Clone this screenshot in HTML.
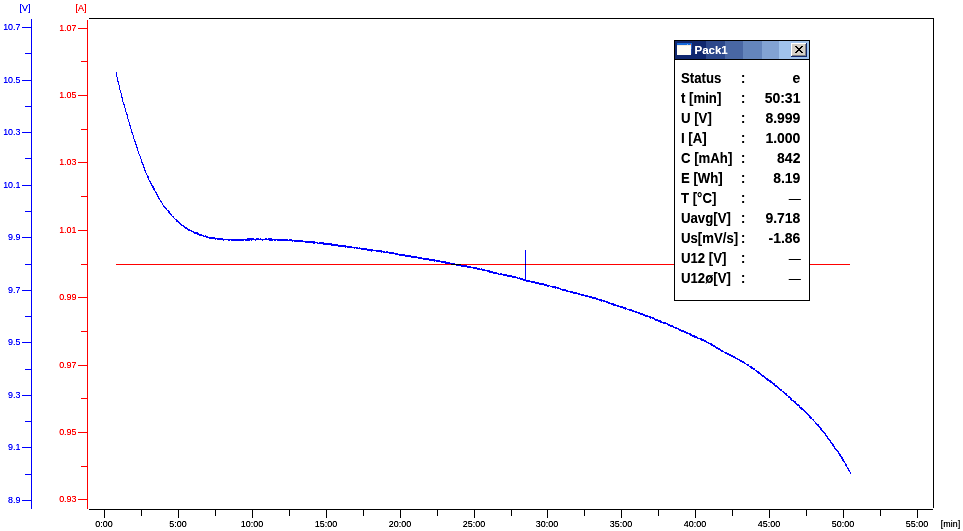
<!DOCTYPE html>
<html><head><meta charset="utf-8"><title>Pack1</title>
<style>html,body{margin:0;padding:0;background:#fff;overflow:hidden}svg{display:block}text{font-family:"Liberation Sans",sans-serif}</style>
</head><body>
<svg width="963" height="531" viewBox="0 0 963 531">
<defs><filter id="px" x="0" y="0" width="1" height="1" filterUnits="objectBoundingBox"><feComponentTransfer><feFuncA type="linear" slope="1.35" intercept="0"/></feComponentTransfer></filter><filter id="pb" x="0" y="0" width="1" height="1" filterUnits="objectBoundingBox"><feComponentTransfer><feFuncA type="linear" slope="1.15" intercept="0"/></feComponentTransfer></filter></defs>
<rect width="963" height="531" fill="#fff"/>
<rect x="89" y="18" width="845" height="1" fill="#000"/>
<rect x="933" y="18" width="1" height="490" fill="#000"/>
<rect x="89" y="509" width="844" height="1" fill="#000"/>
<rect x="31" y="19" width="1" height="490" fill="#0000ff"/>
<rect x="22" y="27" width="10" height="1" fill="#0000ff"/>
<rect x="25" y="53" width="7" height="1" fill="#0000ff"/>
<rect x="22" y="80" width="10" height="1" fill="#0000ff"/>
<rect x="25" y="106" width="7" height="1" fill="#0000ff"/>
<rect x="22" y="132" width="10" height="1" fill="#0000ff"/>
<rect x="25" y="158" width="7" height="1" fill="#0000ff"/>
<rect x="22" y="185" width="10" height="1" fill="#0000ff"/>
<rect x="25" y="211" width="7" height="1" fill="#0000ff"/>
<rect x="22" y="237" width="10" height="1" fill="#0000ff"/>
<rect x="25" y="264" width="7" height="1" fill="#0000ff"/>
<rect x="22" y="290" width="10" height="1" fill="#0000ff"/>
<rect x="25" y="316" width="7" height="1" fill="#0000ff"/>
<rect x="22" y="342" width="10" height="1" fill="#0000ff"/>
<rect x="25" y="369" width="7" height="1" fill="#0000ff"/>
<rect x="22" y="395" width="10" height="1" fill="#0000ff"/>
<rect x="25" y="421" width="7" height="1" fill="#0000ff"/>
<rect x="22" y="447" width="10" height="1" fill="#0000ff"/>
<rect x="25" y="474" width="7" height="1" fill="#0000ff"/>
<rect x="22" y="500" width="10" height="1" fill="#0000ff"/>
<rect x="87" y="20" width="1" height="489" fill="#ff0000"/>
<rect x="78" y="28" width="10" height="1" fill="#ff0000"/>
<rect x="81" y="61" width="7" height="1" fill="#ff0000"/>
<rect x="78" y="95" width="10" height="1" fill="#ff0000"/>
<rect x="81" y="129" width="7" height="1" fill="#ff0000"/>
<rect x="78" y="162" width="10" height="1" fill="#ff0000"/>
<rect x="81" y="196" width="7" height="1" fill="#ff0000"/>
<rect x="78" y="230" width="10" height="1" fill="#ff0000"/>
<rect x="81" y="264" width="7" height="1" fill="#ff0000"/>
<rect x="78" y="297" width="10" height="1" fill="#ff0000"/>
<rect x="81" y="331" width="7" height="1" fill="#ff0000"/>
<rect x="78" y="365" width="10" height="1" fill="#ff0000"/>
<rect x="81" y="398" width="7" height="1" fill="#ff0000"/>
<rect x="78" y="432" width="10" height="1" fill="#ff0000"/>
<rect x="81" y="466" width="7" height="1" fill="#ff0000"/>
<rect x="78" y="499" width="10" height="1" fill="#ff0000"/>
<rect x="104" y="509" width="1" height="9" fill="#000"/>
<rect x="141" y="509" width="1" height="7" fill="#000"/>
<rect x="178" y="509" width="1" height="9" fill="#000"/>
<rect x="215" y="509" width="1" height="7" fill="#000"/>
<rect x="252" y="509" width="1" height="9" fill="#000"/>
<rect x="289" y="509" width="1" height="7" fill="#000"/>
<rect x="326" y="509" width="1" height="9" fill="#000"/>
<rect x="363" y="509" width="1" height="7" fill="#000"/>
<rect x="400" y="509" width="1" height="9" fill="#000"/>
<rect x="437" y="509" width="1" height="7" fill="#000"/>
<rect x="474" y="509" width="1" height="9" fill="#000"/>
<rect x="511" y="509" width="1" height="7" fill="#000"/>
<rect x="547" y="509" width="1" height="9" fill="#000"/>
<rect x="584" y="509" width="1" height="7" fill="#000"/>
<rect x="621" y="509" width="1" height="9" fill="#000"/>
<rect x="658" y="509" width="1" height="7" fill="#000"/>
<rect x="695" y="509" width="1" height="9" fill="#000"/>
<rect x="732" y="509" width="1" height="7" fill="#000"/>
<rect x="769" y="509" width="1" height="9" fill="#000"/>
<rect x="806" y="509" width="1" height="7" fill="#000"/>
<rect x="843" y="509" width="1" height="9" fill="#000"/>
<rect x="880" y="509" width="1" height="7" fill="#000"/>
<rect x="917" y="509" width="1" height="9" fill="#000"/>
<g font-size="9.5px" fill="#0000ff" text-anchor="end" filter="url(#px)">
<text transform="translate(20.5 30.2) scale(0.94 1)">10.7</text>
<text transform="translate(20.5 83.2) scale(0.94 1)">10.5</text>
<text transform="translate(20.5 135.2) scale(0.94 1)">10.3</text>
<text transform="translate(20.5 188.2) scale(0.94 1)">10.1</text>
<text transform="translate(20.5 240.2) scale(0.94 1)">9.9</text>
<text transform="translate(20.5 293.2) scale(0.94 1)">9.7</text>
<text transform="translate(20.5 345.2) scale(0.94 1)">9.5</text>
<text transform="translate(20.5 398.2) scale(0.94 1)">9.3</text>
<text transform="translate(20.5 450.2) scale(0.94 1)">9.1</text>
<text transform="translate(20.5 503.2) scale(0.94 1)">8.9</text>
</g>
<text transform="translate(25 11.2) scale(0.94 1)" font-size="9.5px" fill="#0000ff" text-anchor="middle" filter="url(#px)">[V]</text>
<g font-size="9.5px" fill="#ff0000" text-anchor="end" filter="url(#px)">
<text transform="translate(76.5 31) scale(0.94 1)">1.07</text>
<text transform="translate(76.5 98) scale(0.94 1)">1.05</text>
<text transform="translate(76.5 165) scale(0.94 1)">1.03</text>
<text transform="translate(76.5 233) scale(0.94 1)">1.01</text>
<text transform="translate(76.5 300) scale(0.94 1)">0.99</text>
<text transform="translate(76.5 368) scale(0.94 1)">0.97</text>
<text transform="translate(76.5 435) scale(0.94 1)">0.95</text>
<text transform="translate(76.5 502) scale(0.94 1)">0.93</text>
</g>
<text transform="translate(81 11.2) scale(0.94 1)" font-size="9.5px" fill="#ff0000" text-anchor="middle" filter="url(#px)">[A]</text>
<g font-size="9.5px" fill="#000" text-anchor="middle" filter="url(#px)">
<text transform="translate(104 527) scale(0.94 1)">0:00</text>
<text transform="translate(178 527) scale(0.94 1)">5:00</text>
<text transform="translate(252 527) scale(0.94 1)">10:00</text>
<text transform="translate(326 527) scale(0.94 1)">15:00</text>
<text transform="translate(400 527) scale(0.94 1)">20:00</text>
<text transform="translate(474 527) scale(0.94 1)">25:00</text>
<text transform="translate(547 527) scale(0.94 1)">30:00</text>
<text transform="translate(621 527) scale(0.94 1)">35:00</text>
<text transform="translate(695 527) scale(0.94 1)">40:00</text>
<text transform="translate(769 527) scale(0.94 1)">45:00</text>
<text transform="translate(843 527) scale(0.94 1)">50:00</text>
<text transform="translate(917 527) scale(0.94 1)">55:00</text>
<text transform="translate(950.5 527) scale(0.94 1)">[min]</text>
</g>
<rect x="116" y="264" width="734" height="1" fill="#ff0000"/>
<path d="M116 72h1v5h-1zM117 77h1v5h-1zM118 81h1v4h-1zM119 85h1v5h-1zM120 90h1v3h-1zM121 93h1v5h-1zM122 97h1v5h-1zM123 102h1v3h-1zM124 104h1v4h-1zM125 108h1v4h-1zM126 112h1v3h-1zM127 114h1v5h-1zM128 119h1v3h-1zM129 122h1v4h-1zM130 125h1v4h-1zM131 129h1v4h-1zM132 132h1v3h-1zM133 135h1v4h-1zM134 139h1v3h-1zM135 141h1v4h-1zM136 144h1v4h-1zM137 147h1v4h-1zM138 151h1v3h-1zM139 154h1v2h-1zM140 156h1v3h-1zM141 159h1v4h-1zM142 162h1v3h-1zM143 164h1v4h-1zM144 167h1v4h-1zM145 170h1v3h-1zM146 173h1v2h-1zM147 175h1v3h-1zM148 176h1v4h-1zM149 180h1v2h-1zM150 181h1v3h-1zM151 183h1v3h-1zM152 185h1v3h-1zM153 186h1v4h-1zM154 188h1v3h-1zM155 191h1v2h-1zM156 192h1v3h-1zM157 194h1v3h-1zM158 196h1v3h-1zM159 198h1v2h-1zM160 200h1v2h-1zM161 201h1v2h-1zM162 203h1v2h-1zM163 205h1v2h-1zM164 206h1v2h-1zM165 207h1v2h-1zM166 208h1v2h-1zM167 210h1v1h-1zM168 210h1v3h-1zM169 211h1v3h-1zM170 213h1v2h-1zM171 214h1v2h-1zM172 216h1v1h-1zM173 216h1v2h-1zM174 218h1v1h-1zM175 219h1v1h-1zM176 219h1v3h-1zM177 220h1v2h-1zM178 221h1v2h-1zM179 222h1v2h-1zM180 223h1v2h-1zM181 224h1v2h-1zM182 225h1v1h-1zM183 225h1v2h-1zM184 226h1v2h-1zM185 227h1v2h-1zM186 227h1v2h-1zM187 228h1v2h-1zM188 229h1v2h-1zM189 229h1v2h-1zM190 230h1v1h-1zM191 230h1v2h-1zM192 231h1v1h-1zM193 231h1v2h-1zM194 232h1v2h-1zM195 232h1v2h-1zM196 232h1v2h-1zM197 232h1v3h-1zM198 233h1v2h-1zM199 234h1v2h-1zM200 234h1v2h-1zM201 234h1v2h-1zM202 235h1v1h-1zM203 235h1v2h-1zM204 236h1v1h-1zM205 235h1v2h-1zM206 236h1v2h-1zM207 236h1v2h-1zM208 237h1v1h-1zM209 237h1v2h-1zM210 237h1v2h-1zM211 237h1v2h-1zM212 237h1v2h-1zM213 237h1v2h-1zM214 237h1v2h-1zM215 238h1v2h-1zM216 238h1v1h-1zM217 238h1v2h-1zM218 238h1v2h-1zM219 238h1v2h-1zM220 238h1v2h-1zM221 238h1v2h-1zM222 238h1v2h-1zM223 239h1v2h-1zM224 239h1v1h-1zM225 239h1v1h-1zM226 239h1v1h-1zM227 239h1v1h-1zM228 239h1v2h-1zM229 239h1v2h-1zM230 239h1v1h-1zM231 239h1v2h-1zM232 239h1v2h-1zM233 239h1v2h-1zM234 239h1v2h-1zM235 239h1v2h-1zM236 239h1v2h-1zM237 239h1v2h-1zM238 239h1v2h-1zM239 239h1v2h-1zM240 239h1v2h-1zM241 239h1v2h-1zM242 239h1v2h-1zM243 239h1v2h-1zM244 239h1v1h-1zM245 239h1v2h-1zM246 239h1v2h-1zM247 238h1v3h-1zM248 238h1v3h-1zM249 238h1v3h-1zM250 238h1v2h-1zM251 238h1v3h-1zM252 238h1v2h-1zM253 238h1v2h-1zM254 239h1v1h-1zM255 239h1v2h-1zM256 238h1v2h-1zM257 238h1v2h-1zM258 238h1v2h-1zM259 239h1v1h-1zM260 238h1v2h-1zM261 239h1v1h-1zM262 239h1v2h-1zM263 239h1v1h-1zM264 239h1v1h-1zM265 238h1v2h-1zM266 238h1v2h-1zM267 239h1v1h-1zM268 238h1v2h-1zM269 238h1v3h-1zM270 238h1v3h-1zM271 238h1v3h-1zM272 239h1v2h-1zM273 239h1v1h-1zM274 239h1v2h-1zM275 239h1v2h-1zM276 239h1v1h-1zM277 239h1v2h-1zM278 239h1v2h-1zM279 239h1v2h-1zM280 239h1v2h-1zM281 239h1v2h-1zM282 239h1v2h-1zM283 239h1v2h-1zM284 239h1v2h-1zM285 239h1v2h-1zM286 239h1v2h-1zM287 239h1v2h-1zM288 240h1v1h-1zM289 239h1v2h-1zM290 239h1v2h-1zM291 239h1v2h-1zM292 240h1v2h-1zM293 240h1v1h-1zM294 240h1v2h-1zM295 240h1v2h-1zM296 240h1v2h-1zM297 240h1v2h-1zM298 240h1v2h-1zM299 240h1v2h-1zM300 240h1v2h-1zM301 240h1v2h-1zM302 240h1v2h-1zM303 241h1v1h-1zM304 241h1v1h-1zM305 241h1v2h-1zM306 241h1v2h-1zM307 241h1v2h-1zM308 241h1v2h-1zM309 241h1v2h-1zM310 241h1v2h-1zM311 241h1v2h-1zM312 241h1v2h-1zM313 241h1v3h-1zM314 241h1v3h-1zM315 242h1v1h-1zM316 242h1v1h-1zM317 242h1v2h-1zM318 243h1v1h-1zM319 242h1v2h-1zM320 242h1v2h-1zM321 242h1v2h-1zM322 242h1v2h-1zM323 242h1v3h-1zM324 243h1v2h-1zM325 243h1v2h-1zM326 243h1v2h-1zM327 243h1v2h-1zM328 243h1v2h-1zM329 243h1v2h-1zM330 243h1v2h-1zM331 243h1v3h-1zM332 244h1v2h-1zM333 244h1v2h-1zM334 244h1v2h-1zM335 244h1v2h-1zM336 244h1v2h-1zM337 244h1v2h-1zM338 245h1v2h-1zM339 245h1v2h-1zM340 245h1v2h-1zM341 245h1v2h-1zM342 245h1v2h-1zM343 245h1v2h-1zM344 245h1v2h-1zM345 245h1v3h-1zM346 246h1v1h-1zM347 246h1v2h-1zM348 246h1v2h-1zM349 246h1v2h-1zM350 246h1v2h-1zM351 246h1v2h-1zM352 247h1v1h-1zM353 247h1v1h-1zM354 247h1v2h-1zM355 247h1v1h-1zM356 247h1v2h-1zM357 247h1v2h-1zM358 248h1v1h-1zM359 247h1v2h-1zM360 248h1v1h-1zM361 248h1v2h-1zM362 248h1v2h-1zM363 248h1v2h-1zM364 248h1v2h-1zM365 248h1v2h-1zM366 248h1v2h-1zM367 249h1v2h-1zM368 249h1v2h-1zM369 249h1v2h-1zM370 249h1v2h-1zM371 249h1v3h-1zM372 249h1v2h-1zM373 250h1v1h-1zM374 250h1v1h-1zM375 250h1v1h-1zM376 250h1v2h-1zM377 250h1v2h-1zM378 250h1v2h-1zM379 250h1v2h-1zM380 250h1v2h-1zM381 250h1v3h-1zM382 251h1v1h-1zM383 251h1v2h-1zM384 251h1v2h-1zM385 252h1v1h-1zM386 251h1v2h-1zM387 251h1v2h-1zM388 252h1v1h-1zM389 252h1v2h-1zM390 252h1v2h-1zM391 252h1v2h-1zM392 252h1v2h-1zM393 252h1v2h-1zM394 253h1v1h-1zM395 253h1v2h-1zM396 253h1v2h-1zM397 253h1v2h-1zM398 254h1v1h-1zM399 254h1v2h-1zM400 254h1v2h-1zM401 254h1v2h-1zM402 254h1v2h-1zM403 254h1v2h-1zM404 254h1v2h-1zM405 255h1v2h-1zM406 255h1v2h-1zM407 255h1v2h-1zM408 255h1v2h-1zM409 255h1v2h-1zM410 255h1v2h-1zM411 256h1v2h-1zM412 256h1v2h-1zM413 256h1v2h-1zM414 256h1v2h-1zM415 256h1v2h-1zM416 256h1v2h-1zM417 257h1v1h-1zM418 257h1v2h-1zM419 257h1v2h-1zM420 257h1v2h-1zM421 257h1v2h-1zM422 258h1v1h-1zM423 258h1v2h-1zM424 258h1v2h-1zM425 258h1v2h-1zM426 258h1v2h-1zM427 258h1v2h-1zM428 258h1v2h-1zM429 259h1v2h-1zM430 259h1v2h-1zM431 259h1v2h-1zM432 259h1v2h-1zM433 259h1v2h-1zM434 259h1v3h-1zM435 260h1v1h-1zM436 260h1v2h-1zM437 260h1v2h-1zM438 260h1v2h-1zM439 260h1v2h-1zM440 261h1v1h-1zM441 261h1v2h-1zM442 261h1v2h-1zM443 261h1v2h-1zM444 261h1v2h-1zM445 261h1v3h-1zM446 262h1v2h-1zM447 262h1v2h-1zM448 262h1v2h-1zM449 262h1v2h-1zM450 263h1v1h-1zM451 263h1v2h-1zM452 263h1v2h-1zM453 263h1v2h-1zM454 263h1v2h-1zM455 264h1v1h-1zM456 264h1v2h-1zM457 264h1v2h-1zM458 264h1v2h-1zM459 264h1v2h-1zM460 264h1v2h-1zM461 265h1v2h-1zM462 265h1v2h-1zM463 265h1v2h-1zM464 265h1v2h-1zM465 265h1v2h-1zM466 265h1v2h-1zM467 266h1v2h-1zM468 266h1v2h-1zM469 266h1v2h-1zM470 266h1v2h-1zM471 267h1v1h-1zM472 267h1v1h-1zM473 267h1v2h-1zM474 267h1v2h-1zM475 267h1v2h-1zM476 267h1v2h-1zM477 268h1v2h-1zM478 268h1v2h-1zM479 268h1v2h-1zM480 269h1v1h-1zM481 268h1v2h-1zM482 269h1v2h-1zM483 269h1v2h-1zM484 269h1v2h-1zM485 270h1v1h-1zM486 270h1v1h-1zM487 270h1v2h-1zM488 270h1v2h-1zM489 270h1v3h-1zM490 271h1v2h-1zM491 271h1v2h-1zM492 271h1v2h-1zM493 272h1v2h-1zM494 272h1v2h-1zM495 272h1v2h-1zM496 272h1v2h-1zM497 273h1v1h-1zM498 273h1v2h-1zM499 274h1v1h-1zM500 273h1v2h-1zM501 273h1v2h-1zM502 274h1v1h-1zM503 274h1v2h-1zM504 274h1v2h-1zM505 274h1v2h-1zM506 274h1v2h-1zM507 275h1v2h-1zM508 275h1v2h-1zM509 275h1v2h-1zM510 275h1v2h-1zM511 275h1v2h-1zM512 276h1v2h-1zM513 276h1v2h-1zM514 276h1v2h-1zM515 276h1v2h-1zM516 277h1v1h-1zM517 277h1v2h-1zM518 278h1v1h-1zM519 277h1v2h-1zM520 278h1v2h-1zM521 278h1v2h-1zM522 278h1v2h-1zM523 279h1v2h-1zM524 279h1v2h-1zM525 279h1v2h-1zM526 280h1v2h-1zM527 280h1v2h-1zM528 280h1v2h-1zM529 280h1v2h-1zM530 281h1v1h-1zM531 281h1v2h-1zM532 281h1v2h-1zM533 281h1v2h-1zM534 281h1v2h-1zM535 282h1v2h-1zM536 282h1v2h-1zM537 282h1v2h-1zM538 282h1v2h-1zM539 283h1v2h-1zM540 283h1v2h-1zM541 283h1v2h-1zM542 283h1v2h-1zM543 283h1v2h-1zM544 284h1v2h-1zM545 284h1v2h-1zM546 284h1v2h-1zM547 285h1v2h-1zM548 285h1v2h-1zM549 285h1v1h-1zM550 286h1v1h-1zM551 286h1v1h-1zM552 286h1v2h-1zM553 286h1v2h-1zM554 286h1v2h-1zM555 286h1v3h-1zM556 287h1v1h-1zM557 287h1v2h-1zM558 287h1v2h-1zM559 288h1v1h-1zM560 288h1v2h-1zM561 289h1v1h-1zM562 289h1v2h-1zM563 289h1v2h-1zM564 289h1v2h-1zM565 289h1v2h-1zM566 290h1v2h-1zM567 290h1v2h-1zM568 291h1v1h-1zM569 291h1v1h-1zM570 291h1v2h-1zM571 291h1v2h-1zM572 291h1v2h-1zM573 292h1v2h-1zM574 292h1v2h-1zM575 292h1v2h-1zM576 292h1v2h-1zM577 293h1v1h-1zM578 293h1v2h-1zM579 293h1v2h-1zM580 294h1v1h-1zM581 294h1v2h-1zM582 294h1v2h-1zM583 294h1v2h-1zM584 295h1v1h-1zM585 295h1v2h-1zM586 295h1v2h-1zM587 295h1v2h-1zM588 296h1v1h-1zM589 296h1v2h-1zM590 296h1v2h-1zM591 296h1v2h-1zM592 297h1v2h-1zM593 297h1v2h-1zM594 297h1v2h-1zM595 297h1v2h-1zM596 298h1v2h-1zM597 298h1v2h-1zM598 299h1v1h-1zM599 299h1v2h-1zM600 299h1v2h-1zM601 299h1v3h-1zM602 300h1v1h-1zM603 300h1v2h-1zM604 300h1v2h-1zM605 301h1v1h-1zM606 301h1v2h-1zM607 301h1v2h-1zM608 302h1v2h-1zM609 302h1v2h-1zM610 303h1v1h-1zM611 303h1v2h-1zM612 303h1v2h-1zM613 303h1v3h-1zM614 304h1v2h-1zM615 304h1v2h-1zM616 305h1v1h-1zM617 305h1v2h-1zM618 305h1v2h-1zM619 306h1v1h-1zM620 306h1v2h-1zM621 306h1v2h-1zM622 306h1v2h-1zM623 307h1v2h-1zM624 307h1v2h-1zM625 307h1v3h-1zM626 308h1v1h-1zM627 309h1v1h-1zM628 309h1v1h-1zM629 309h1v2h-1zM630 309h1v2h-1zM631 309h1v2h-1zM632 310h1v2h-1zM633 310h1v2h-1zM634 311h1v1h-1zM635 311h1v2h-1zM636 311h1v2h-1zM637 312h1v1h-1zM638 312h1v2h-1zM639 312h1v2h-1zM640 313h1v2h-1zM641 313h1v2h-1zM642 313h1v2h-1zM643 314h1v2h-1zM644 314h1v2h-1zM645 315h1v2h-1zM646 315h1v2h-1zM647 315h1v2h-1zM648 316h1v1h-1zM649 316h1v2h-1zM650 316h1v3h-1zM651 317h1v1h-1zM652 317h1v2h-1zM653 317h1v2h-1zM654 318h1v2h-1zM655 319h1v2h-1zM656 319h1v2h-1zM657 319h1v2h-1zM658 320h1v2h-1zM659 320h1v2h-1zM660 320h1v3h-1zM661 321h1v2h-1zM662 322h1v1h-1zM663 322h1v2h-1zM664 322h1v2h-1zM665 322h1v2h-1zM666 323h1v1h-1zM667 323h1v2h-1zM668 324h1v2h-1zM669 324h1v2h-1zM670 325h1v2h-1zM671 325h1v2h-1zM672 325h1v2h-1zM673 326h1v2h-1zM674 327h1v1h-1zM675 327h1v2h-1zM676 327h1v2h-1zM677 328h1v1h-1zM678 328h1v2h-1zM679 329h1v2h-1zM680 329h1v2h-1zM681 330h1v2h-1zM682 330h1v2h-1zM683 330h1v2h-1zM684 331h1v2h-1zM685 331h1v2h-1zM686 332h1v2h-1zM687 332h1v2h-1zM688 333h1v1h-1zM689 333h1v2h-1zM690 333h1v3h-1zM691 334h1v2h-1zM692 335h1v2h-1zM693 335h1v2h-1zM694 335h1v3h-1zM695 336h1v2h-1zM696 336h1v2h-1zM697 337h1v2h-1zM698 338h1v1h-1zM699 338h1v1h-1zM700 338h1v2h-1zM701 338h1v3h-1zM702 339h1v2h-1zM703 339h1v2h-1zM704 340h1v2h-1zM705 340h1v2h-1zM706 341h1v2h-1zM707 342h1v1h-1zM708 342h1v2h-1zM709 343h1v1h-1zM710 343h1v2h-1zM711 343h1v3h-1zM712 344h1v2h-1zM713 345h1v2h-1zM714 345h1v2h-1zM715 346h1v2h-1zM716 347h1v2h-1zM717 347h1v2h-1zM718 348h1v2h-1zM719 348h1v2h-1zM720 349h1v2h-1zM721 350h1v2h-1zM722 350h1v2h-1zM723 351h1v1h-1zM724 352h1v1h-1zM725 352h1v2h-1zM726 352h1v2h-1zM727 353h1v2h-1zM728 353h1v2h-1zM729 354h1v2h-1zM730 354h1v2h-1zM731 355h1v2h-1zM732 355h1v2h-1zM733 356h1v2h-1zM734 356h1v2h-1zM735 357h1v2h-1zM736 358h1v1h-1zM737 358h1v2h-1zM738 359h1v1h-1zM739 359h1v2h-1zM740 360h1v2h-1zM741 360h1v2h-1zM742 361h1v2h-1zM743 361h1v2h-1zM744 362h1v2h-1zM745 363h1v1h-1zM746 364h1v1h-1zM747 364h1v2h-1zM748 364h1v2h-1zM749 366h1v1h-1zM750 366h1v2h-1zM751 366h1v3h-1zM752 367h1v2h-1zM753 368h1v2h-1zM754 368h1v2h-1zM755 370h1v1h-1zM756 370h1v2h-1zM757 371h1v2h-1zM758 371h1v3h-1zM759 372h1v2h-1zM760 373h1v2h-1zM761 374h1v2h-1zM762 375h1v2h-1zM763 375h1v2h-1zM764 376h1v2h-1zM765 377h1v2h-1zM766 378h1v2h-1zM767 378h1v3h-1zM768 379h1v2h-1zM769 380h1v2h-1zM770 380h1v3h-1zM771 381h1v2h-1zM772 382h1v2h-1zM773 383h1v2h-1zM774 383h1v3h-1zM775 385h1v2h-1zM776 385h1v2h-1zM777 386h1v2h-1zM778 387h1v2h-1zM779 388h1v2h-1zM780 389h1v2h-1zM781 389h1v2h-1zM782 391h1v1h-1zM783 391h1v2h-1zM784 392h1v2h-1zM785 393h1v2h-1zM786 393h1v3h-1zM787 395h1v1h-1zM788 396h1v2h-1zM789 396h1v2h-1zM790 397h1v3h-1zM791 398h1v3h-1zM792 400h1v1h-1zM793 400h1v2h-1zM794 401h1v2h-1zM795 401h1v3h-1zM796 403h1v2h-1zM797 404h1v2h-1zM798 404h1v2h-1zM799 405h1v3h-1zM800 407h1v2h-1zM801 407h1v3h-1zM802 408h1v2h-1zM803 409h1v2h-1zM804 410h1v2h-1zM805 411h1v2h-1zM806 412h1v2h-1zM807 413h1v2h-1zM808 414h1v2h-1zM809 415h1v3h-1zM810 416h1v3h-1zM811 417h1v2h-1zM812 419h1v1h-1zM813 419h1v2h-1zM814 421h1v1h-1zM815 422h1v2h-1zM816 423h1v2h-1zM817 424h1v2h-1zM818 424h1v3h-1zM819 426h1v2h-1zM820 427h1v3h-1zM821 428h1v3h-1zM822 430h1v2h-1zM823 431h1v2h-1zM824 432h1v2h-1zM825 433h1v3h-1zM826 435h1v2h-1zM827 436h1v3h-1zM828 438h1v2h-1zM829 439h1v2h-1zM830 440h1v3h-1zM831 442h1v2h-1zM832 443h1v3h-1zM833 444h1v3h-1zM834 446h1v3h-1zM835 448h1v2h-1zM836 449h1v2h-1zM837 450h1v2h-1zM838 451h1v3h-1zM839 453h1v3h-1zM840 454h1v3h-1zM841 456h1v3h-1zM842 457h1v4h-1zM843 459h1v3h-1zM844 461h1v2h-1zM845 463h1v3h-1zM846 464h1v3h-1zM847 467h1v2h-1zM848 468h1v3h-1zM849 470h1v2h-1zM850 472h1v2h-1zM525 250h1v31h-1z" fill="#0000ff" shape-rendering="crispEdges" style="mix-blend-mode:multiply"/>
<rect x="674.5" y="40.5" width="135" height="260" fill="#fff" stroke="#000" stroke-width="1"/>
<rect x="675" y="41" width="31" height="18" fill="#10286e"/>
<rect x="706" y="41" width="19" height="18" fill="#2c488b"/>
<rect x="725" y="41" width="18" height="18" fill="#4967a4"/>
<rect x="743" y="41" width="19" height="18" fill="#6485bc"/>
<rect x="762" y="41" width="17" height="18" fill="#82a3d3"/>
<rect x="779" y="41" width="30" height="18" fill="#a0c3ec"/>
<rect x="675" y="59" width="134" height="1" fill="#000"/>
<rect x="677" y="43" width="14" height="12" fill="#fffef6"/>
<rect x="677" y="43" width="15" height="2" fill="#1468d8"/>
<rect x="677" y="45" width="14" height="1" fill="#f3ebdc"/>
<rect x="691" y="45" width="1" height="4" fill="#2a62c4"/>
<rect x="691" y="49" width="1" height="5" fill="#1c409a"/>
<rect x="690" y="44" width="1" height="1" fill="#ec6430"/>
<rect x="687" y="44" width="1" height="1" fill="#7fb0f2"/>
<text x="694.5" y="54" font-size="11.5px" font-weight="bold" fill="#fff" filter="url(#pb)">Pack1</text>
<rect x="791" y="43" width="16" height="14" fill="#d4d0c8"/>
<rect x="791" y="43" width="15" height="1" fill="#fff"/><rect x="791" y="43" width="1" height="13" fill="#fff"/>
<rect x="806" y="43" width="1" height="14" fill="#13296d"/><rect x="791" y="56" width="16" height="1" fill="#13296d"/>
<rect x="805" y="44" width="1" height="12" fill="#808080"/><rect x="792" y="55" width="14" height="1" fill="#808080"/>
<path d="M795 46h2v1h-2zM801 46h2v1h-2zM796 47h2v1h-2zM800 47h2v1h-2zM797 48h2v1h-2zM799 48h2v1h-2zM798 49h2v1h-2zM797 50h2v1h-2zM799 50h2v1h-2zM796 51h2v1h-2zM800 51h2v1h-2zM795 52h2v1h-2zM801 52h2v1h-2z" fill="#000" shape-rendering="crispEdges"/>
<g font-size="14.5px" font-weight="bold" fill="#000" filter="url(#pb)">
<text transform="translate(681 83) scale(0.91 1)">Status</text>
<text transform="translate(741 83) scale(0.9 1)">:</text>
<text transform="translate(800.4 83) scale(0.965 1)" text-anchor="end">e</text>
<text transform="translate(681 103) scale(0.91 1)">t [min]</text>
<text transform="translate(741 103) scale(0.9 1)">:</text>
<text transform="translate(800.4 103) scale(0.965 1)" text-anchor="end">50:31</text>
<text transform="translate(681 123) scale(0.91 1)">U [V]</text>
<text transform="translate(741 123) scale(0.9 1)">:</text>
<text transform="translate(800.4 123) scale(0.965 1)" text-anchor="end">8.999</text>
<text transform="translate(681 143) scale(0.91 1)">I [A]</text>
<text transform="translate(741 143) scale(0.9 1)">:</text>
<text transform="translate(800.4 143) scale(0.965 1)" text-anchor="end">1.000</text>
<text transform="translate(681 163) scale(0.91 1)">C [mAh]</text>
<text transform="translate(741 163) scale(0.9 1)">:</text>
<text transform="translate(800.4 163) scale(0.965 1)" text-anchor="end">842</text>
<text transform="translate(681 183) scale(0.91 1)">E [Wh]</text>
<text transform="translate(741 183) scale(0.9 1)">:</text>
<text transform="translate(800.4 183) scale(0.965 1)" text-anchor="end">8.19</text>
<text transform="translate(681 203) scale(0.91 1)">T [°C]</text>
<text transform="translate(741 203) scale(0.9 1)">:</text>
<text transform="translate(800.8 203) scale(0.83 1)" text-anchor="end" font-weight="normal">—</text>
<text transform="translate(681 223) scale(0.91 1)">Uavg[V]</text>
<text transform="translate(741 223) scale(0.9 1)">:</text>
<text transform="translate(800.4 223) scale(0.965 1)" text-anchor="end">9.718</text>
<text transform="translate(681 243) scale(0.91 1)">Us[mV/s]</text>
<text transform="translate(741 243) scale(0.9 1)">:</text>
<text transform="translate(800.4 243) scale(0.965 1)" text-anchor="end">-1.86</text>
<text transform="translate(681 263) scale(0.91 1)">U12 [V]</text>
<text transform="translate(741 263) scale(0.9 1)">:</text>
<text transform="translate(800.8 263) scale(0.83 1)" text-anchor="end" font-weight="normal">—</text>
<text transform="translate(681 283) scale(0.91 1)">U12ø[V]</text>
<text transform="translate(741 283) scale(0.9 1)">:</text>
<text transform="translate(800.8 283) scale(0.83 1)" text-anchor="end" font-weight="normal">—</text>
</g>
</svg></body></html>
